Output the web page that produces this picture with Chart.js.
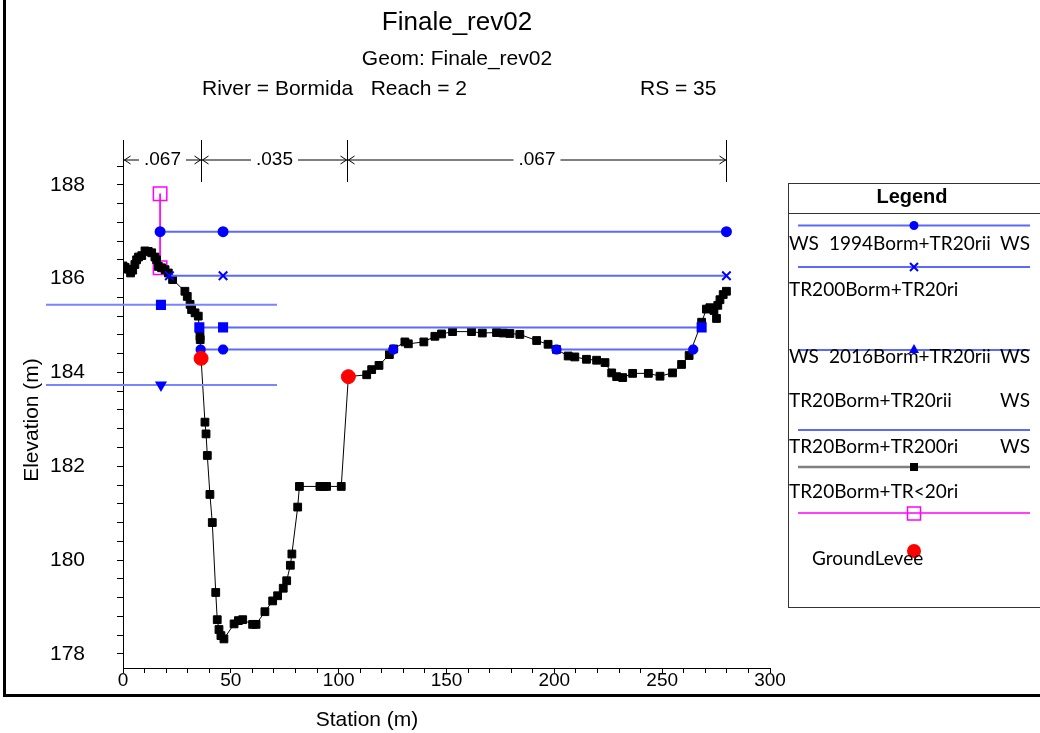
<!DOCTYPE html>
<html>
<head>
<meta charset="utf-8">
<title>Finale_rev02 - RS 35</title>
<script src="https://cdn.jsdelivr.net/npm/chart.js@4.4.0/dist/chart.umd.min.js"></script>
<style>
  html, body { margin: 0; padding: 0; background: #fff; }
  #wrap { position: relative; width: 1040px; height: 733px; }
</style>
</head>
<body>
<div id="wrap"><canvas id="xsChart" width="1040" height="733"></canvas></div>
<script>
// Ground profile (station m, elevation m)
const groundStation = [0, 1.0, 2.5, 3.5, 4.5, 5.5, 6.3, 7.2, 8.7, 10.2, 11.7, 13.3, 14.8, 15.6, 16.4, 17.9, 19.5, 21.0, 23.0,
  28.7, 29.8, 31.1, 31.8, 33.4, 34.9, 35.4, 35.7, 35.8, 36.2, 38.0, 38.5, 39.1, 40.3, 41.4, 43.0, 43.7, 44.5, 45.4, 46.8,
  51.5, 53.5, 55.5, 60.1, 61.7, 65.8, 69.4, 71.7, 74.3, 75.9, 77.6, 78.3, 81.0, 81.8, 91.3, 92.9, 94.4, 101.2, 104.5,
  113.0, 115.3, 118.7, 123.5, 125.5, 130.7, 132.3, 139.5, 144.6, 147.7, 152.8, 161.6, 166.6, 173.2, 176.3, 179.4, 184.0,
  191.8, 197.1, 201.0, 206.4, 209.5, 214.9, 219.6, 223.5, 226.6, 228.9, 231.7, 236.3, 243.6, 249.0, 254.8, 259.0, 262.5,
  268.3, 270.5, 272.1, 274.0, 275.2, 275.8, 276.8, 278.3, 279.8];
const groundElev = [186.27, 186.24, 186.20, 186.12, 186.18, 186.30, 186.40, 186.46, 186.49, 186.59, 186.58, 186.55, 186.46, 186.40, 186.26, 186.23, 186.19, 186.12, 185.98,
  185.73, 185.62, 185.45, 185.34, 185.27, 185.20, 184.93, 184.77, 184.70, 184.30, 182.94, 182.69, 182.23, 181.40, 180.80, 179.31, 178.73, 178.52, 178.39, 178.32,
  178.64, 178.71, 178.73, 178.63, 178.63, 178.90, 179.13, 179.24, 179.40, 179.56, 179.89, 180.13, 181.13, 181.57, 181.57, 181.57, 181.57, 181.57, 183.91,
  183.95, 184.06, 184.15, 184.38, 184.50, 184.65, 184.61, 184.65, 184.77, 184.82, 184.87, 184.87, 184.84, 184.85, 184.84, 184.83, 184.81,
  184.68, 184.60, 184.49, 184.35, 184.33, 184.28, 184.26, 184.21, 183.99, 183.91, 183.89, 183.98, 183.98, 183.92, 183.99, 184.17, 184.36,
  185.07, 185.35, 185.38, 185.32, 185.15, 185.43, 185.55, 185.66, 185.73];

// Water surfaces
const ws1994Station = [17.2, 46.4, 279.8];
const ws1994Elev = [187.0, 187.0, 187.0];
const wsTR200Station = [21.5, 46.4, 279.8];
const wsTR200Elev = [186.06, 186.06, 186.06];
const wsLeftSqStation = [-35.7, 17.6, 71.4];
const wsLeftSqElev = [185.44, 185.44, 185.44];
const ws2016Station = [-35.7, 17.6, 71.4];
const ws2016Elev = [183.73, 183.73, 183.73];
const wsTR20riiStation = [35.4, 46.4, 268.3];
const wsTR20riiElev = [184.96, 184.96, 184.96];
const wsTR200riStation = [36.0, 46.4, 125.3, 163.0, 201.0, 264.4];
const wsTR200riElev = [184.49, 184.49, 184.49, null, 184.49, 184.49];

// Levee and ground levee points
const leveeStation = [17.2, 17.2];
const leveeElev = [187.81, 186.23];
const groundLeveeStation = [36.2, 104.5];
const groundLeveeElev = [184.30, 183.91];

// Manning's n regions
const mannStations = [0, 36, 104, 279.8];
const mannValues = ['.067', '.035', '.067'];

const FONT = 'Arial, "Liberation Sans", sans-serif';
const LEG_FONT = 'Lato, "Open Sans", sans-serif';
const WS_BLUE = '#5a6aff';
const WS_LIGHT = '#7885ff';
const MARK_BLUE = '#0000ff';

function pts(st, el) {
  return st.map((s, i) => ({ x: s, y: el[i] }));
}

const decorPlugin = {
  id: 'decor',
  beforeDraw(chart) {
    const ctx = chart.ctx;
    ctx.save();
    ctx.fillStyle = '#fff';
    ctx.fillRect(0, 0, chart.width, chart.height);
    ctx.restore();
  },
  afterDraw(chart) {
    const ctx = chart.ctx;
    const xs = chart.scales.x;
    ctx.save();

    // outer frame
    ctx.strokeStyle = '#000';
    ctx.lineWidth = 3;
    ctx.beginPath();
    ctx.moveTo(4.5, 0);
    ctx.lineTo(4.5, 695.5);
    ctx.lineTo(1040, 695.5);
    ctx.stroke();

    // titles
    ctx.fillStyle = '#000';
    ctx.textBaseline = 'middle';
    ctx.textAlign = 'center';
    ctx.font = '26px ' + FONT;
    ctx.fillText('Finale_rev02', 457, 23);
    ctx.font = '21px ' + FONT;
    ctx.fillText('Geom: Finale_rev02', 457, 59);
    ctx.textAlign = 'left';
    ctx.fillText('River = Bormida   Reach = 2', 202, 89);
    ctx.fillText('RS = 35', 640, 89);

    // axis titles
    ctx.textAlign = 'center';
    ctx.font = '21px ' + FONT;
    ctx.fillText('Station (m)', 367, 720);
    ctx.save();
    ctx.translate(32, 420);
    ctx.rotate(-Math.PI / 2);
    ctx.fillText('Elevation (m)', 0, 0);
    ctx.restore();

    // Manning's n annotation
    const yTop = 140, yBot = 182, yArr = 160;
    ctx.lineWidth = 1;
    ctx.strokeStyle = '#000';
    const mx = mannStations.map(s => Math.round(xs.getPixelForValue(s)) + 0.5);
    mx.forEach(px => {
      ctx.beginPath();
      ctx.moveTo(px, yTop);
      ctx.lineTo(px, yBot);
      ctx.stroke();
    });
    ctx.font = '19px ' + FONT;
    for (let i = 0; i < mannValues.length; i++) {
      const x1 = mx[i], x2 = mx[i + 1];
      const mid = (x1 + x2) / 2;
      const w = ctx.measureText(mannValues[i]).width;
      ctx.fillText(mannValues[i], mid, yArr);
      ctx.beginPath();
      ctx.moveTo(x1, yArr); ctx.lineTo(mid - w / 2 - 5, yArr);
      ctx.moveTo(mid + w / 2 + 5, yArr); ctx.lineTo(x2, yArr);
      // arrow heads
      ctx.moveTo(x1 + 7, yArr - 4); ctx.lineTo(x1 + 1, yArr); ctx.lineTo(x1 + 7, yArr + 4);
      ctx.moveTo(x2 - 7, yArr - 4); ctx.lineTo(x2 - 1, yArr); ctx.lineTo(x2 - 7, yArr + 4);
      ctx.stroke();
    }

    // legend box
    const lx = 788, ly = 183;
    ctx.strokeStyle = '#333';
    ctx.lineWidth = 1;
    ctx.strokeRect(lx + 0.5, ly + 0.5, 300, 424);
    ctx.beginPath();
    ctx.moveTo(lx, 213.5); ctx.lineTo(1040, 213.5);
    ctx.stroke();
    ctx.font = 'bold 20px ' + FONT;
    ctx.textAlign = 'center';
    ctx.fillText('Legend', 912, 197);

    const mk = 914;
    function legLine(y, color, w) {
      ctx.strokeStyle = color;
      ctx.lineWidth = w;
      ctx.beginPath();
      ctx.moveTo(798, y); ctx.lineTo(1030, y);
      ctx.stroke();
    }
    legLine(225.5, WS_BLUE, 2);
    ctx.fillStyle = MARK_BLUE;
    ctx.beginPath(); ctx.arc(mk, 225.5, 4.5, 0, Math.PI * 2); ctx.fill();
    legLine(267, WS_BLUE, 2);
    ctx.strokeStyle = MARK_BLUE; ctx.lineWidth = 2;
    ctx.beginPath();
    ctx.moveTo(mk - 4, 263); ctx.lineTo(mk + 4, 271);
    ctx.moveTo(mk + 4, 263); ctx.lineTo(mk - 4, 271);
    ctx.stroke();
    legLine(350, WS_BLUE, 2);
    ctx.fillStyle = MARK_BLUE;
    ctx.beginPath(); ctx.moveTo(mk, 344); ctx.lineTo(mk + 5, 353); ctx.lineTo(mk - 5, 353); ctx.closePath(); ctx.fill();
    legLine(430, WS_BLUE, 2);
    legLine(467, '#808080', 2.5);
    ctx.fillStyle = '#000';
    ctx.fillRect(mk - 4, 463, 8, 8);
    legLine(513, '#ff40ff', 2);
    ctx.strokeStyle = '#ff00ff'; ctx.lineWidth = 1.5;
    ctx.strokeRect(mk - 6.5, 507, 13, 13);
    ctx.fillStyle = '#ff0000';
    ctx.beginPath(); ctx.arc(mk, 551, 7, 0, Math.PI * 2); ctx.fill();

    ctx.fillStyle = '#000';
    ctx.font = '19px ' + LEG_FONT;
    function lt(t, x, y, align) { ctx.textAlign = align || 'left'; ctx.fillText(t, x, y); }
    lt('WS', 789, 244); lt('1994Borm+TR20rii', 829, 244); lt('WS', 1030, 244, 'right');
    lt('TR200Borm+TR20ri', 789, 290);
    lt('WS', 789, 357); lt('2016Borm+TR20rii', 829, 357); lt('WS', 1030, 357, 'right');
    lt('TR20Borm+TR20rii', 789, 401); lt('WS', 1030, 401, 'right');
    lt('TR20Borm+TR200ri', 789, 447); lt('WS', 1030, 447, 'right');
    lt('TR20Borm+TR<20ri', 789, 492);
    lt('GroundLevee', 812, 559);

    ctx.restore();
  }
};

const ctx = document.getElementById('xsChart');
new Chart(ctx, {
  type: 'line',
  data: {
    datasets: [
      {
        label: 'GroundLevee',
        data: pts(groundLeveeStation, groundLeveeElev),
        showLine: false,
        pointStyle: 'circle',
        pointRadius: 7,
        pointBackgroundColor: '#ff0000',
        pointBorderColor: '#ff0000'
      },
      {
        label: 'WS 1994Borm+TR20rii',
        data: pts(ws1994Station, ws1994Elev),
        borderColor: WS_BLUE, borderWidth: 2,
        pointStyle: 'circle', pointRadius: 4.5,
        pointBackgroundColor: MARK_BLUE, pointBorderColor: MARK_BLUE
      },
      {
        label: 'WS TR200Borm+TR20ri',
        data: pts(wsTR200Station, wsTR200Elev),
        borderColor: WS_BLUE, borderWidth: 2,
        pointStyle: 'crossRot', pointRadius: 6, pointBorderWidth: 2,
        pointBorderColor: MARK_BLUE
      },
      {
        label: 'WS left square',
        data: pts(wsLeftSqStation, wsLeftSqElev),
        clip: false,
        borderColor: WS_LIGHT, borderWidth: 2,
        pointStyle: 'rect', pointRadius: [0, 5.7, 0],
        pointBackgroundColor: MARK_BLUE, pointBorderColor: MARK_BLUE
      },
      {
        label: 'WS 2016Borm+TR20rii',
        data: pts(ws2016Station, ws2016Elev),
        clip: false,
        borderColor: WS_LIGHT, borderWidth: 2,
        pointStyle: 'triangle', pointRotation: 180, pointRadius: [0, 5, 0],
        pointBackgroundColor: MARK_BLUE, pointBorderColor: MARK_BLUE
      },
      {
        label: 'WS TR20Borm+TR20rii',
        data: pts(wsTR20riiStation, wsTR20riiElev),
        borderColor: WS_BLUE, borderWidth: 2,
        pointStyle: 'rect', pointRadius: 5.7,
        pointBackgroundColor: MARK_BLUE, pointBorderColor: MARK_BLUE
      },
      {
        label: 'WS TR20Borm+TR200ri',
        data: pts(wsTR200riStation, wsTR200riElev),
        spanGaps: false,
        borderColor: WS_BLUE, borderWidth: 2,
        pointStyle: 'star', pointRadius: 5, pointBorderWidth: 3.5,
        pointBackgroundColor: MARK_BLUE, pointBorderColor: MARK_BLUE
      },
      {
        label: 'Ground',
        data: pts(groundStation, groundElev),
        borderColor: '#000', borderWidth: 1,
        pointStyle: 'rect', pointRadius: 5.5,
        pointBackgroundColor: '#000', pointBorderColor: '#000'
      },
      {
        label: 'Levee',
        data: pts(leveeStation, leveeElev),
        borderColor: '#ff00ff', borderWidth: 1,
        pointStyle: 'rect', pointRadius: 9.5, pointBorderWidth: 1.5,
        pointBackgroundColor: 'rgba(0,0,0,0)', pointBorderColor: '#ff00ff'
      }
    ]
  },
  options: {
    responsive: false,
    animation: false,
    devicePixelRatio: 1,
    layout: { padding: { left: 0, top: 166, right: 270, bottom: 0 } },
    plugins: {
      legend: { display: false },
      title: { display: false },
      tooltip: { enabled: false }
    },
    elements: { line: { tension: 0 } },
    scales: {
      x: {
        type: 'linear',
        min: 0,
        max: 300,
        afterFit(scale) { scale.height = 65; },
        border: { display: true, color: '#000', width: 1 },
        grid: { drawOnChartArea: false, drawTicks: true, tickLength: 5, color: '#000' },
        ticks: {
          stepSize: 10,
          includeBounds: false,
          autoSkip: false,
          maxRotation: 0,
          padding: -4,
          color: '#000',
          font: { family: FONT, size: 19 },
          callback: v => (Math.round(v) % 50 === 0 ? String(Math.round(v)) : '')
        }
      },
      y: {
        type: 'linear',
        min: 177.7,
        max: 188.4,
        afterFit(scale) { scale.width = 123; },
        border: { display: true, color: '#000', width: 1 },
        grid: { drawOnChartArea: false, drawTicks: true, tickLength: 6, color: '#000' },
        ticks: {
          stepSize: 0.4,
          includeBounds: false,
          autoSkip: false,
          padding: 32,
          color: '#000',
          font: { family: FONT, size: 21 },
          callback: v => {
            const r = Math.round(v);
            return (Math.abs(v - r) < 1e-6 && r % 2 === 0) ? String(r) : '';
          }
        }
      }
    }
  },
  plugins: [decorPlugin]
});
</script>
</body>
</html>
